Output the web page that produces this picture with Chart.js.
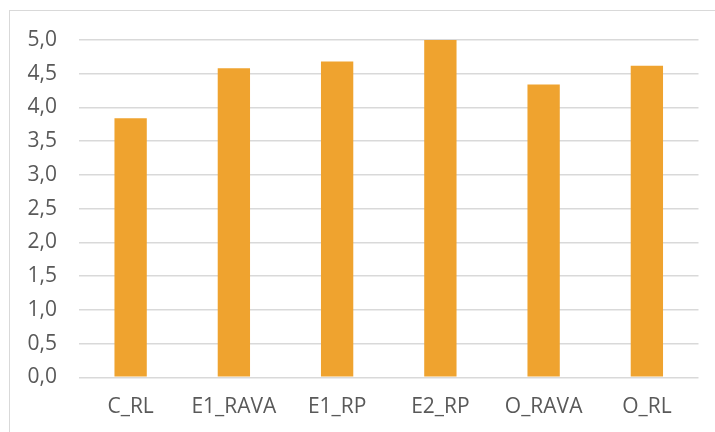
<!DOCTYPE html>
<html>
<head>
<meta charset="utf-8">
<script src="https://cdn.jsdelivr.net/npm/chart.js@4"></script>
<style>
  html, body { margin: 0; padding: 0; background: #fff; }
  #wrap { position: relative; width: 715px; height: 432px; overflow: hidden; }
  #frame { position: absolute; left: 9px; top: 10px; width: 800px; height: 500px;
           border: 1.5px solid #d9d9d9; box-sizing: border-box; }
  #chart { position: absolute; left: 0; top: 0; }
</style>
</head>
<body>
<div id="wrap">
  <div id="frame"></div>
  <canvas id="chart" width="715" height="432"></canvas>
</div>
<script>
// Chart data
const categories = ["C_RL", "E1_RAVA", "E1_RP", "E2_RP", "O_RAVA", "O_RL"];
const values = [3.84, 4.58, 4.68, 5.0, 4.34, 4.62];
const yMin = 0;
const yMax = 5;
const yStep = 0.5;

const textColor = "#595959";
const gridColor = "#d9d9d9";
const barColor = "#efa32f";

// Build the bar chart
const chart = new Chart(document.getElementById("chart").getContext("2d"), {
  type: "bar",
  data: {
    labels: categories,
    datasets: [
      {
        data: values,
        backgroundColor: barColor,
        borderWidth: 0,
        categoryPercentage: 1,
        barPercentage: 0.313,
      },
    ],
  },
  options: {
    responsive: false,
    animation: false,
    layout: { padding: { top: 40, right: 16.5, bottom: 0, left: 0 } },
    plugins: { legend: { display: false }, tooltip: { enabled: false } },
    scales: {
      x: {
        grid: { display: false, drawTicks: false },
        border: { display: false },
        ticks: {
          color: textColor,
          padding: 17,
          maxRotation: 0,
          font: { family: "Open Sans", size: 21 },
        },
        afterFit: function (scale) {
          scale.height = 54.7;
        },
      },
      y: {
        min: yMin,
        max: yMax,
        grid: { color: gridColor, lineWidth: 1.5, drawTicks: false },
        border: { display: false },
        ticks: {
          stepSize: yStep,
          color: textColor,
          padding: 22,
          font: { family: "Open Sans", size: 21 },
          // Decimal comma, one digit
          callback: function (value) {
            return value.toFixed(1).replace(".", ",");
          },
        },
        afterFit: function (scale) {
          scale.width = 79;
        },
      },
    },
  },
});
</script>
</body>
</html>
